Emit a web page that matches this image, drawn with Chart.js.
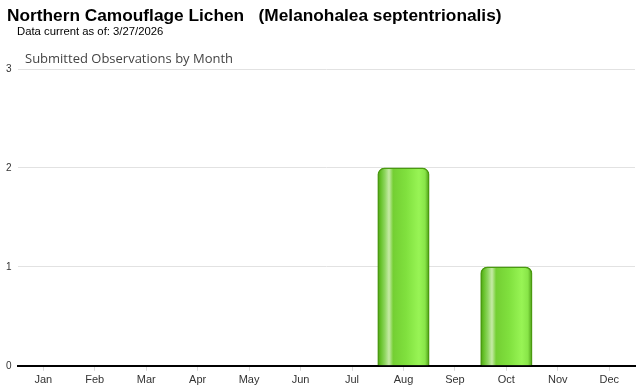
<!DOCTYPE html>
<html>
<head>
<meta charset="utf-8">
<script src="https://cdn.jsdelivr.net/npm/chart.js@4"></script>
<style>
  html, body { margin: 0; padding: 0; background: #fff; }
  #wrap { position: relative; width: 640px; height: 390px; overflow: hidden; }
  #chart { position: absolute; left: 0; top: 0; }
  .t1 { position: absolute; left: 7px; top: 5px; font: bold 17.3px "Liberation Sans", Arial, sans-serif; color: #000; white-space: pre; }
  .t2 { position: absolute; left: 17px; top: 25px; font: 11.3px "Liberation Sans", Arial, sans-serif; color: #000; white-space: pre; }
  .t3 { position: absolute; left: 25px; top: 49px; font: 13px "Open Sans", sans-serif; color: #444; white-space: pre; }
</style>
</head>
<body>
<div id="wrap">
  <canvas id="chart" width="640" height="390"></canvas>
  <div class="t1">Northern Camouflage Lichen   (Melanohalea septentrionalis)</div>
  <div class="t2">Data current as of: 3/27/2026</div>
  <div class="t3">Submitted Observations by Month</div>
</div>
<script>
const months = ["Jan","Feb","Mar","Apr","May","Jun","Jul","Aug","Sep","Oct","Nov","Dec"];
const observations = [0,0,0,0,0,0,0,2,0,1,0,0];
const yTicks = [0,1,2,3];

function barGradient(ctx) {
  const chart = ctx.chart;
  if (!chart.chartArea || ctx.type !== 'data') return '#7cd838';
  const xs = chart.scales.x;
  const c = xs.getPixelForValue(ctx.dataIndex);
  const half = xs.width / months.length / 2;
  const g = chart.ctx.createLinearGradient(c - half, 0, c + half, 0);
  g.addColorStop(0.00, '#4f9e14');
  g.addColorStop(0.06, '#66c22a');
  g.addColorStop(0.14, '#8fd660');
  g.addColorStop(0.22, '#c6eaa6');
  g.addColorStop(0.30, '#74cf33');
  g.addColorStop(0.55, '#80e03e');
  g.addColorStop(0.80, '#98f455');
  g.addColorStop(0.92, '#88e548');
  g.addColorStop(1.00, '#4a9a12');
  return g;
}

new Chart(document.getElementById('chart'), {
  type: 'bar',
  data: {
    labels: months,
    datasets: [{
      data: observations,
      backgroundColor: barGradient,
      borderColor: '#4a9a10',
      borderWidth: 1.5,
      borderSkipped: 'bottom',
      borderRadius: { topLeft: 7, topRight: 7, bottomLeft: 0, bottomRight: 0 },
      barPercentage: 1.0,
      categoryPercentage: 1.0
    }]
  },
  options: {
    responsive: false,
    animation: false,
    events: [],
    layout: { padding: { top: 69, left: 0, right: 5, bottom: 0 } },
    plugins: { legend: { display: false }, title: { display: false }, tooltip: { enabled: false } },
    scales: {
      x: {
        grid: { display: true, drawOnChartArea: false, drawTicks: true, tickLength: 5, color: '#d8d8d8', offset: false },
        border: { display: true, color: '#000', width: 2 },
        ticks: { color: '#333', font: { family: 'Liberation Sans, Arial', size: 11 }, padding: 3, maxRotation: 0 }
      },
      y: {
        min: 0, max: 3,
        afterBuildTicks: (axis) => { axis.ticks = yTicks.map(v => ({ value: v })); },
        grid: { color: '#e2e2e2', drawTicks: false },
        border: { display: false },
        ticks: { color: '#333', font: { family: 'Liberation Sans, Arial', size: 10 }, padding: 6 }
      }
    }
  }
});
</script>
</body>
</html>
